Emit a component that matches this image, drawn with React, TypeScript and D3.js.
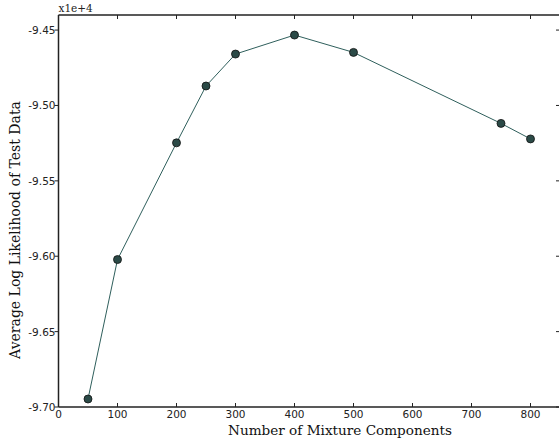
import React from 'react';
import { scaleLinear, line } from 'd3';

const components = [50, 100, 200, 250, 300, 400, 500, 750, 800];
const logLik = [-96947, -96022, -95248, -94871, -94659, -94533, -94648, -95119, -95222];
const xTicks = [0, 100, 200, 300, 400, 500, 600, 700, 800];
const yTicks = [-97000, -96500, -96000, -95500, -95000, -94500];

const W = 559;
const H = 438;
const left = 58.5;
const right = 560;
const top = 15;
const bottom = 407;

function App() {
    const x = scaleLinear().domain([0, 850]).range([left, right]);
    const y = scaleLinear().domain([-97000, -94400]).range([bottom, top]);

    const path = line<number>()
        .x((d, i) => x(components[i]))
        .y((d) => y(d))(logLik);

    const tickFont = 'DejaVu Sans, sans-serif';
    const labelFont = 'DejaVu Serif, serif';
    const spine = '#222';

    return (
        <svg width={W} height={H} style={{ position: 'absolute', left: 0, top: 0, background: '#fff' }}>
            {/* frame */}
            <line x1={left} x2={right} y1={bottom} y2={bottom} stroke={spine} strokeWidth={1.5} />
            <line x1={left} x2={left} y1={top} y2={bottom} stroke={spine} strokeWidth={1.5} />
            <line x1={left} x2={right} y1={top} y2={top} stroke={spine} strokeWidth={1.5} />
            <line x1={right} x2={right} y1={top} y2={bottom} stroke={spine} strokeWidth={1.5} />

            {xTicks.map((t) => (
                <g key={t}>
                    <line x1={x(t)} x2={x(t)} y1={bottom} y2={bottom - 4} stroke={spine} />
                    <line x1={x(t)} x2={x(t)} y1={top} y2={top + 4} stroke={spine} />
                    <text x={x(t)} y={bottom + 11} textAnchor="middle" fontFamily={tickFont} fontSize={10.5} fill="#222">
                        {t}
                    </text>
                </g>
            ))}

            {yTicks.map((t) => (
                <g key={t}>
                    <line x1={left - 4} x2={left} y1={y(t)} y2={y(t)} stroke={spine} />
                    <line x1={right - 4} x2={right} y1={y(t)} y2={y(t)} stroke={spine} />
                    <text x={left - 3} y={y(t) + 4} textAnchor="end" fontFamily={tickFont} fontSize={10.5} fill="#222">
                        {(t / 10000).toFixed(2)}
                    </text>
                </g>
            ))}

            <text x={left} y={12} fontFamily={labelFont} fontSize={10.5} fill="#222">x1e+4</text>

            <path d={path || ''} fill="none" stroke="#2f5f5c" strokeWidth={1} />
            {logLik.map((d, i) => (
                <circle key={i} cx={x(components[i])} cy={y(d)} r={4} fill="#2b4a47" stroke="#111" strokeWidth={0.8} />
            ))}

            <text x={340} y={435} textAnchor="middle" fontFamily={labelFont} fontSize={13.6} fill="#111">
                Number of Mixture Components
            </text>
            <text transform="translate(20,230) rotate(-90)" textAnchor="middle" fontFamily={labelFont} fontSize={14} fill="#111">
                Average Log Likelihood of Test Data
            </text>
        </svg>
    );
}

export default App;
